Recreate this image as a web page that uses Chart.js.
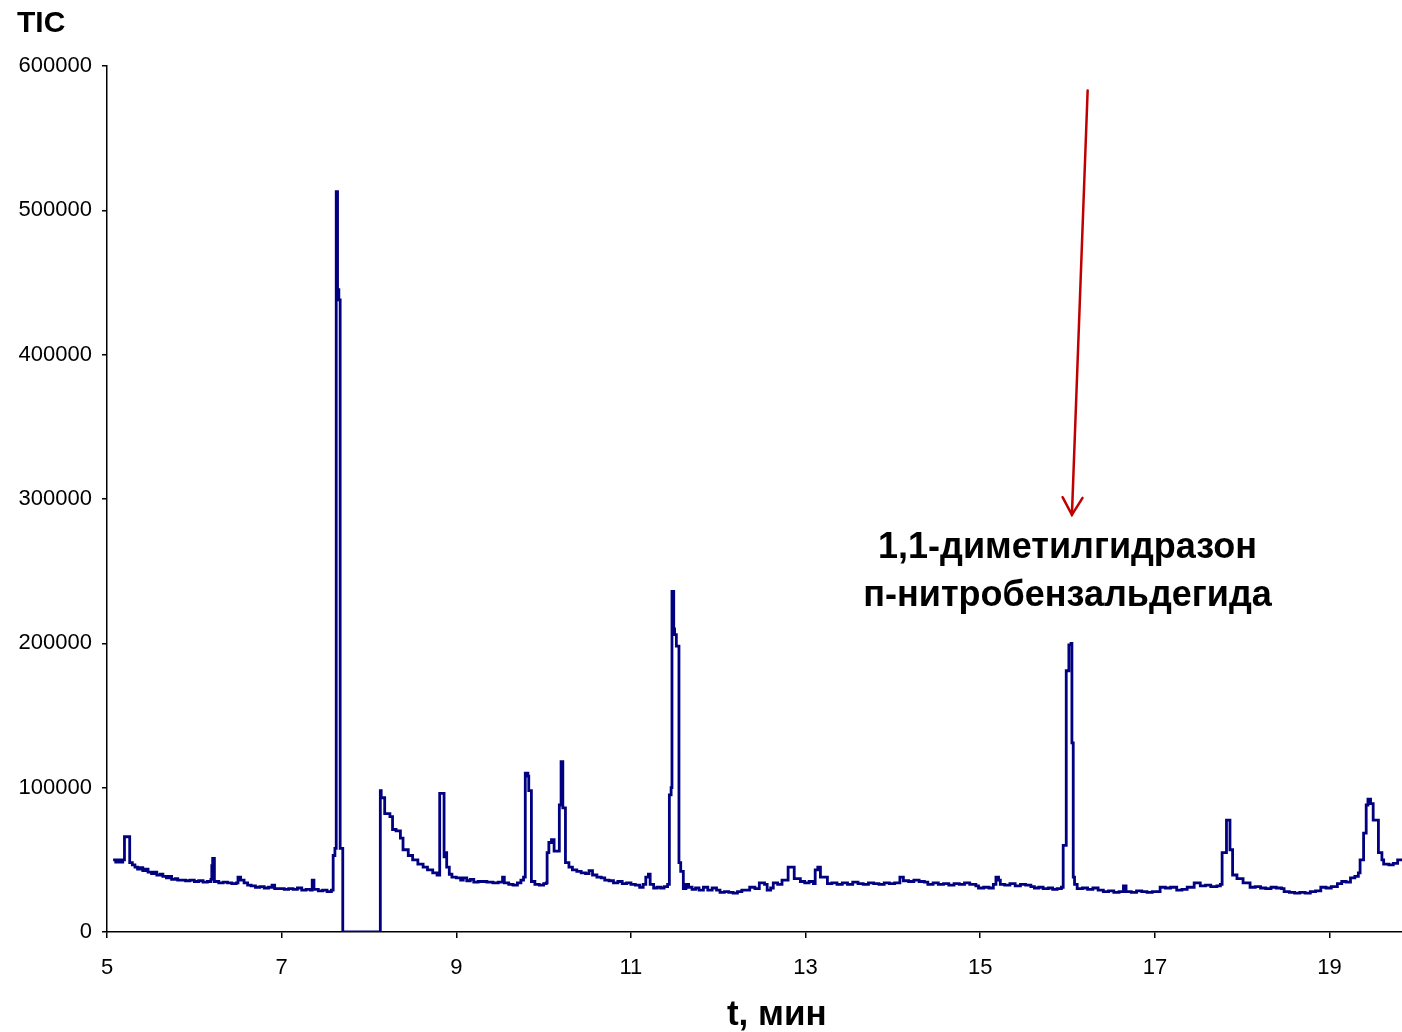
<!DOCTYPE html>
<html><head><meta charset="utf-8">
<script src="https://cdn.jsdelivr.net/npm/chart.js@4.4.1/dist/chart.umd.min.js"></script>
<style>html,body{margin:0;padding:0;background:#fff;}#wrap{width:1402px;height:1032px;position:relative;}</style>
</head><body><div id="wrap"><canvas id="c"></canvas></div>
<script>
const retentionTime = [
5.07,5.10,5.13,5.16,5.18,5.20,5.26,5.29,5.32,5.35,5.38,5.41,5.44,5.47,5.51,5.54,5.57,5.61,5.64,5.68,5.71,5.74,5.78,5.81,5.86,5.90,5.95,6.00,6.05,6.10,6.15,6.19,6.20,6.21,6.23,6.28,6.33,6.38,6.43,6.48,6.50,6.53,6.57,6.61,6.65,6.70,6.75,6.80,6.85,6.89,6.92,6.98,7.03,7.08,7.13,7.18,7.23,7.28,7.33,7.35,7.37,7.42,7.47,7.52,7.57,7.59,7.61,7.625,7.64,7.655,7.67,7.70,
8.13,8.14,8.18,8.24,8.27,8.31,8.36,8.39,8.45,8.50,8.56,8.62,8.67,8.73,8.78,8.81,8.86,8.87,8.89,8.92,8.95,9.00,9.05,9.08,9.12,9.16,9.20,9.25,9.30,9.35,9.42,9.48,9.53,9.55,9.60,9.65,9.70,9.74,9.77,9.79,9.82,9.83,9.86,9.90,9.95,10.00,10.03,10.04,10.06,10.09,10.12,10.18,10.20,10.22,10.25,10.29,10.33,10.38,10.43,10.48,10.52,10.56,10.61,10.66,10.70,10.75,10.80,10.85,10.90,10.95,11.00,11.05,11.10,11.14,11.17,11.20,11.22,11.26,11.30,11.34,11.38,11.42,11.44,11.46,11.47,11.49,11.50,11.52,11.55,11.57,11.60,11.63,11.66,11.70,11.74,11.78,
11.83,11.88,11.93,11.98,12.02,12.07,12.12,12.17,12.22,12.27,12.32,12.36,12.42,12.47,12.53,12.56,12.60,12.63,12.68,12.73,12.80,12.87,12.94,12.99,13.04,13.09,13.11,13.14,13.17,13.25,13.30,13.36,13.42,13.48,13.54,13.60,13.66,13.72,13.78,13.84,13.90,13.96,14.02,14.08,14.12,14.18,14.24,14.30,14.36,14.40,14.46,14.52,14.58,14.64,14.70,14.76,14.82,14.88,14.95,14.98,15.04,15.10,15.15,15.18,15.21,15.23,15.28,15.34,15.40,15.46,15.52,15.58,15.62,15.67,15.72,15.78,15.83,15.88,15.93,15.95,15.985,16.015,16.04,16.05,16.065,16.08,16.11,16.17,16.23,16.29,16.35,16.41,16.47,16.53,16.59,16.64,16.67,16.73,16.79,16.85,16.91,16.97,
17.03,17.06,17.12,17.18,17.25,17.31,17.37,17.45,17.52,17.58,17.64,17.71,17.75,17.77,17.82,17.86,17.89,17.94,18.01,18.09,18.15,18.21,18.27,18.33,18.39,18.45,18.48,18.54,18.60,18.66,18.72,18.78,18.84,18.90,18.96,19.02,19.09,19.14,19.19,19.24,19.29,19.33,19.35,19.39,19.42,19.44,19.47,19.50,19.56,19.60,19.62,19.68,19.73,19.78,19.83
];
const ticCounts = [
50000,48500,50000,48500,50000,66000,48000,46500,45000,43500,44500,42500,43500,41500,40500,41500,39500,40000,38500,37500,38500,36500,37000,36000,36000,35500,36000,35000,35500,34500,35000,36500,46000,51000,35000,34000,34500,34000,33500,34000,38000,36000,34000,32500,32000,31000,31500,30500,31000,32500,30000,30000,29500,30000,29500,30500,29000,29500,29000,36000,29500,28500,29000,28000,29000,53000,58000,513000,445000,438000,58000,0,
98000,93000,82000,80000,71000,70000,65000,57000,53000,50000,47000,45000,43000,41000,39500,96000,52000,55000,45000,40000,38000,37500,36000,37500,35500,36500,34500,35000,35000,34500,34000,34500,38000,34000,33000,32500,34000,36000,38000,110000,108000,98000,35000,33000,32500,33500,34000,55000,62000,64000,56000,88000,118000,86000,48000,45000,43000,42000,41000,40500,42500,39500,38000,37500,36000,35500,34000,35000,33500,34000,33000,32500,31000,33000,38000,40000,33000,30500,31000,30500,31500,33000,95000,100000,236000,210000,206000,198000,48000,42000,30000,33000,31000,29500,30500,29000,
31000,29000,30500,29000,27500,28000,27500,27000,28000,29000,29000,31000,30000,34000,33000,29000,30500,34000,33000,36000,45000,37000,35000,34000,35000,33500,43000,45000,38000,33500,34000,33000,34000,33000,34500,33500,33000,34000,33500,33000,34000,33500,34000,38000,35500,35000,36000,35000,34500,33000,34000,33000,33500,32500,33500,33000,34000,33000,32000,30500,31000,30500,33000,38000,36000,33000,32500,33500,32000,33000,32500,31500,30500,31000,30000,30500,29500,30000,31000,60000,181000,199000,200000,131000,38000,33000,30000,30500,29500,30500,29000,28000,28500,27500,28000,32000,28000,27500,28500,28000,27500,28000,
28000,31000,30500,31000,29000,29500,31000,34000,32000,32500,31500,32000,33000,55000,77500,57000,39500,37000,34000,31000,31500,30500,30000,31000,30500,30000,28000,27500,27000,27500,27000,28000,28500,31000,30500,31500,33500,35000,34500,37500,38500,41000,50000,68500,88000,92000,89000,77500,55000,50000,47000,46500,47500,50000,51000
];
const xTickValues = [5, 7, 9, 11, 13, 15, 17, 19];
const yTickValues = [0, 100000, 200000, 300000, 400000, 500000, 600000];
const yAxisTitle = 'TIC';
const xAxisTitle = 't, мин';
const annotationLines = ['1,1-диметилгидразон', 'п-нитробензальдегида'];
const annotationX = 16.0;
const annotationY = [259000, 226000];
const arrowFrom = [16.23, 583000];
const arrowTo = [16.05, 289000];
const xTitleCenter = 12.67;

const FONT = "'Liberation Sans', Arial, sans-serif";

const annotPlugin = {
  id: 'annot',
  afterDraw(chart) {
    const {ctx, scales: {x, y}, chartArea} = chart;
    ctx.save();
    const x1 = x.getPixelForValue(arrowFrom[0]), y1 = y.getPixelForValue(arrowFrom[1]);
    const x2 = x.getPixelForValue(arrowTo[0]), y2 = y.getPixelForValue(arrowTo[1]);
    ctx.strokeStyle = '#c00000';
    ctx.lineWidth = 2.5;
    ctx.lineCap = 'round';
    ctx.beginPath(); ctx.moveTo(x1, y1); ctx.lineTo(x2, y2); ctx.stroke();
    const ang = Math.atan2(y2 - y1, x2 - x1);
    const L = 20, A = Math.PI / 6;
    ctx.beginPath();
    ctx.moveTo(x2 - L * Math.cos(ang - A), y2 - L * Math.sin(ang - A));
    ctx.lineTo(x2, y2);
    ctx.lineTo(x2 - L * Math.cos(ang + A), y2 - L * Math.sin(ang + A));
    ctx.stroke();
    ctx.fillStyle = '#000';
    ctx.font = "bold 36px " + FONT;
    ctx.textAlign = 'center';
    ctx.textBaseline = 'alphabetic';
    annotationLines.forEach((t, i) => {
      ctx.fillText(t, x.getPixelForValue(annotationX), y.getPixelForValue(annotationY[i]));
    });
    ctx.font = "bold 35px " + FONT;
    ctx.fillText(xAxisTitle, x.getPixelForValue(xTitleCenter), chartArea.bottom + 93);
    ctx.restore();
  }
};

new Chart(document.getElementById('c'), {
  type: 'line',
  data: {
    datasets: [{
      data: retentionTime.map((t, i) => ({x: t, y: ticCounts[i]})),
      borderColor: '#000080',
      borderWidth: 2.8,
      pointRadius: 0,
      stepped: true,
      fill: false,
      tension: 0
    }]
  },
  options: {
    responsive: true,
    maintainAspectRatio: false,
    animation: false,
    devicePixelRatio: 1,
    layout: {padding: {left: 17, right: 0, top: 0, bottom: 0}},
    plugins: {
      legend: {display: false},
      tooltip: {enabled: false},
      title: {
        display: true, text: yAxisTitle, align: 'start', color: '#000',
        font: {family: FONT, size: 30, weight: 'bold'},
        padding: {top: 6, bottom: 24}
      }
    },
    scales: {
      x: {
        type: 'linear', min: 5, max: 19.83,
        afterBuildTicks: a => { a.ticks = xTickValues.map(v => ({value: v})); },
        afterFit: a => { a.height = 100; },
        ticks: {font: {family: FONT, size: 22}, color: '#000', padding: 17, maxRotation: 0, autoSkip: false, callback: v => String(v)},
        grid: {display: true, drawOnChartArea: false, drawTicks: true, tickLength: 6, color: '#000', lineWidth: 1.5},
        border: {display: true, color: '#000', width: 1.5}
      },
      y: {
        type: 'linear', min: 0, max: 600000,
        afterBuildTicks: a => { a.ticks = yTickValues.map(v => ({value: v})); },
        afterFit: a => { a.width = 90; },
        ticks: {font: {family: FONT, size: 22}, color: '#000', padding: 10, autoSkip: false, callback: v => String(v)},
        grid: {display: true, drawOnChartArea: false, drawTicks: true, tickLength: 5, color: '#000', lineWidth: 1.5},
        border: {display: true, color: '#000', width: 1.5}
      }
    }
  },
  plugins: [annotPlugin]
});
</script>
</body></html>
